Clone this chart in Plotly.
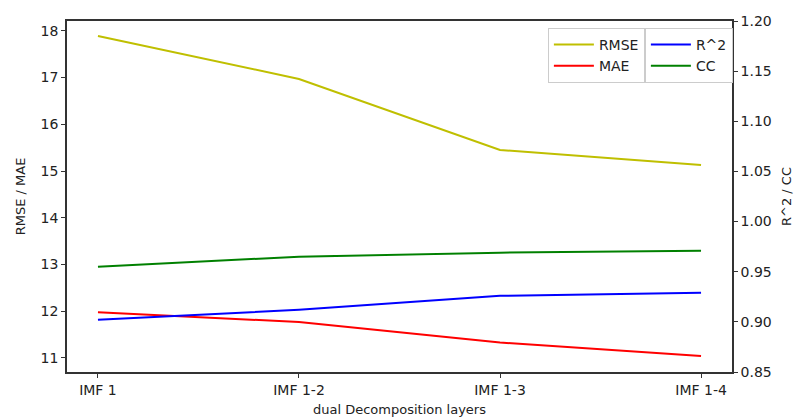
import plotly.graph_objects as go

categories = ["IMF 1", "IMF 1-2", "IMF 1-3", "IMF 1-4"]
rmse = [17.89, 16.97, 15.45, 15.13]
mae = [11.98, 11.77, 11.33, 11.04]
r2 = [0.902, 0.912, 0.926, 0.929]
cc = [0.955, 0.965, 0.969, 0.971]

xpos = list(range(len(categories)))
FONT = "DejaVu Sans"

fig = go.Figure()
fig.add_trace(go.Scatter(x=xpos, y=rmse, mode="lines", name="RMSE",
                         line=dict(color="#bfbf00", width=2), legend="legend"))
fig.add_trace(go.Scatter(x=xpos, y=mae, mode="lines", name="MAE",
                         line=dict(color="#ff0000", width=2), legend="legend"))
fig.add_trace(go.Scatter(x=xpos, y=r2, mode="lines", name="R^2", yaxis="y2",
                         line=dict(color="#0000ff", width=2), legend="legend2"))
fig.add_trace(go.Scatter(x=xpos, y=cc, mode="lines", name="CC", yaxis="y2",
                         line=dict(color="#008000", width=2), legend="legend2"))

axis_common = dict(showgrid=False, zeroline=False, ticks="outside", ticklen=4,
                   tickcolor="#333", linecolor="#333", linewidth=1.5, showline=True,
                   automargin=False,
                   tickfont=dict(family=FONT, size=14, color="#222"))
title_font = dict(family=FONT, size=13, color="#222")

legend_common = dict(bgcolor="rgba(255,255,255,0.85)", bordercolor="#cccccc", borderwidth=1,
                     font=dict(family=FONT, size=14, color="#222"),
                     yanchor="top", tracegroupgap=0, itemwidth=40)

fig.update_layout(
    width=794, height=419,
    margin=dict(l=67, r=62, t=21, b=47),
    plot_bgcolor="white", paper_bgcolor="white",
    xaxis=dict(range=[-0.154, 3.154], tickmode="array", tickvals=xpos, ticktext=categories,
               mirror=True,
               title=dict(text="dual Decomposition layers", font=title_font, standoff=8),
               **axis_common),
    yaxis=dict(range=[10.70, 18.21], tickmode="array", tickvals=[11, 12, 13, 14, 15, 16, 17, 18],
               title=dict(text="RMSE / MAE", font=title_font, standoff=12),
               **axis_common),
    yaxis2=dict(range=[0.85, 1.20], overlaying="y", side="right", tickmode="array",
                tickvals=[0.85, 0.90, 0.95, 1.00, 1.05, 1.10, 1.15, 1.20],
                ticktext=["0.85", "0.90", "0.95", "1.00", "1.05", "1.10", "1.15", "1.20"],
                title=dict(text="R^2 / CC", font=title_font, standoff=14),
                **axis_common),
    legend=dict(x=0.869, xanchor="right", y=0.98, **legend_common),
    legend2=dict(x=0.869, xanchor="left", y=0.98, **legend_common),
    showlegend=True,
)

fig.write_html("out.html", config={"displayModeBar": False},
               post_script="document.body.style.margin='0';")
